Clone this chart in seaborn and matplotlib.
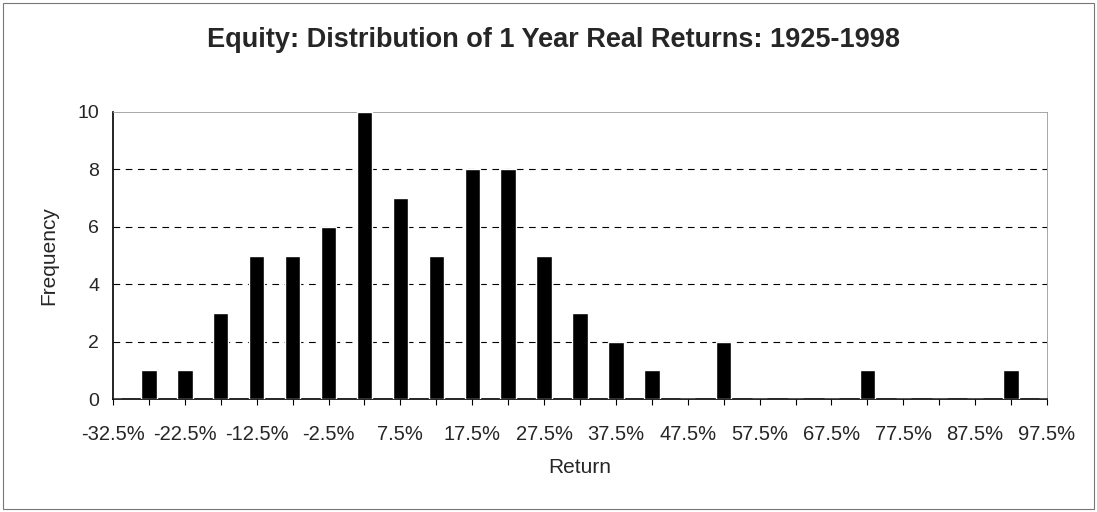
import numpy as np
import pandas as pd
import matplotlib
matplotlib.use('Agg')
import matplotlib.pyplot as plt
import seaborn as sns
from matplotlib.patches import Rectangle

# midpoints of 5% return bins and the count of years in each
bin_midpoints = [-32.5, -27.5, -22.5, -17.5, -12.5, -7.5, -2.5, 2.5, 7.5, 12.5, 17.5, 22.5, 27.5,
                 32.5, 37.5, 42.5, 47.5, 52.5, 57.5, 62.5, 67.5, 72.5, 77.5, 82.5, 87.5, 92.5, 97.5]
frequency = [0, 1, 1, 3, 5, 5, 6, 10, 7, 5, 8, 8, 5,
             3, 2, 1, 0, 2, 0, 0, 0, 1, 0, 0, 0, 1, 0]
bin_labels = ['{}%'.format(m) for m in bin_midpoints]

sns.set_style('white')
plt.rcParams['font.family'] = ['Liberation Sans', 'DejaVu Sans']

data = pd.DataFrame({'Return': bin_labels, 'Frequency': frequency})

fig = plt.figure(figsize=(10.97, 5.12), dpi=100)
ax = fig.add_axes([113 / 1097, 1 - 399 / 512, (1047 - 113) / 1097, (399 - 112) / 512])

sns.barplot(data=data, x='Return', y='Frequency', order=bin_labels, color='black',
            width=0.43, saturation=1, ax=ax, zorder=3)

ax.set_xlim(0, len(bin_labels) - 1)
ax.set_ylim(0, 10)
ax.set_yticks([0, 2, 4, 6, 8, 10])
ax.set_xticks(range(len(bin_labels)))
ax.set_xticklabels([lab if i % 2 == 0 else '' for i, lab in enumerate(bin_labels)], fontsize=14.5)
ax.tick_params(axis='y', labelsize=14, direction='inout', length=10, width=0.8, color='black', pad=5)
ax.tick_params(axis='x', direction='out', length=4, width=0.8, color='black', pad=15, bottom=True)

for level in [2, 4, 6, 8]:
    ax.axhline(level, color='black', linestyle=(0, (6, 5)), linewidth=0.8, zorder=1)

for side in ['left', 'bottom']:
    ax.spines[side].set_color('black')
    ax.spines[side].set_linewidth(1.2)
for side in ['top', 'right']:
    ax.spines[side].set_color('#999999')
    ax.spines[side].set_linewidth(0.6)
    ax.spines[side].set_linestyle((0, (1, 1)))

ax.set_xlabel('Return', fontsize=15, labelpad=10)
ax.set_ylabel('Frequency', fontsize=15, labelpad=14)

fig.text(0.505, 1 - 40 / 512, 'Equity: Distribution of 1 Year Real Returns: 1925-1998',
         ha='center', va='center', fontsize=19.5, fontweight='bold')

fig.patches.append(Rectangle((3 / 1097, 3 / 512), 1 - 6 / 1097, 1 - 6 / 512,
                             transform=fig.transFigure, fill=False,
                             edgecolor='#777777', linewidth=0.8))

plt.savefig('out.png', dpi=100)
plt.close(fig)
